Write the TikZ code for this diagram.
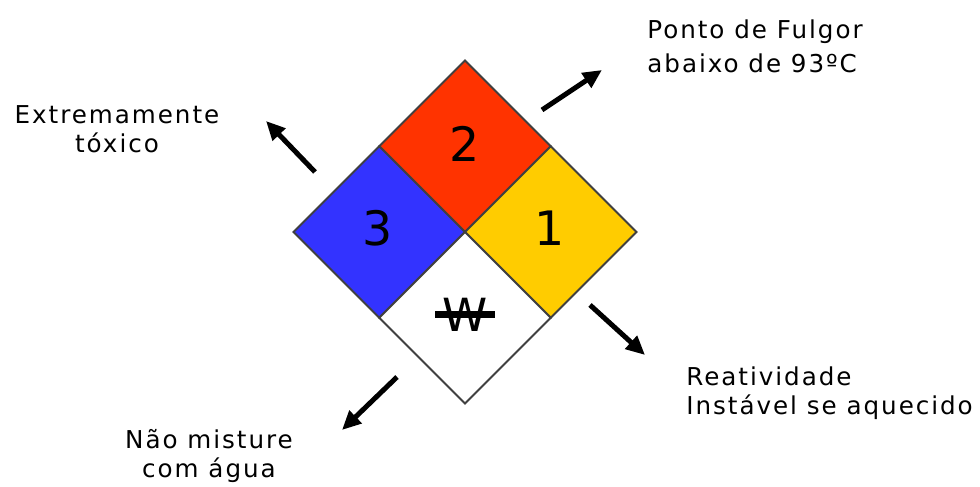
\documentclass[tikz,border=0pt]{standalone}
\usepackage{fontspec}
\setmainfont{DejaVu Sans}[LetterSpace=8]
\usetikzlibrary{arrows.meta}

\definecolor{healthblue}{RGB}{51,51,255}
\definecolor{firered}{RGB}{255,51,0}
\definecolor{reactyellow}{RGB}{255,204,0}
\definecolor{edgegray}{RGB}{64,64,64}

\tikzset{
  quad/.style={draw=edgegray, line width=0.04cm, line join=miter},
  digit/.style={inner sep=0pt, font=\fontsize{27}{30}\selectfont},
  label/.style={inner sep=0pt, font=\fontsize{14}{17}\selectfont},
  hazard/.style={line width=0.1cm, -{Triangle[length=0.38cm,width=0.34cm]}}
}

\begin{document}
\begin{tikzpicture}

 \useasboundingbox (0,0) rectangle (19.6,9.74);

 % nodes
 \coordinate (T)  at (9.300,8.530);
 \coordinate (L)  at (5.870,5.100);
 \coordinate (R)  at (12.730,5.100);
 \coordinate (B)  at (9.300,1.670);
 \coordinate (C)  at (9.300,5.100);
 \coordinate (TL) at (7.585,6.815);
 \coordinate (TR) at (11.015,6.815);
 \coordinate (BR) at (11.015,3.385);
 \coordinate (BL) at (7.585,3.385);

 % elements
 \draw[quad, fill=firered]     (T) -- (TR) -- (C) -- (TL) -- cycle;
 \draw[quad, fill=healthblue]  (TL) -- (C) -- (BL) -- (L) -- cycle;
 \draw[quad, fill=reactyellow] (TR) -- (R) -- (BR) -- (C) -- cycle;
 \draw[quad, fill=white]       (C) -- (BR) -- (B) -- (BL) -- cycle;

 % numbers
 \node[digit] (fire)   at (9.300,6.860) {2};
 \node[digit] (health) at (7.560,5.180) {3};
 \node[digit] (react)  at (11.000,5.180) {1};
 \node[inner sep=0pt, font=\fontsize{26}{28}\selectfont] (W) at (9.300,3.440) {W};
 \draw[line width=0.14cm] ([xshift=-0.14cm]W.west) -- ([xshift=0.14cm]W.east);

 % arrow
 \coordinate (P) at (6.30,6.30);
 \coordinate (Q) at (5.32,7.32);
 \coordinate (U) at (10.84,7.54);
 \coordinate (V) at (12.04,8.34);
 \coordinate (X) at (11.80,3.64);
 \coordinate (Y) at (12.90,2.64);
 \coordinate (Z) at (7.94,2.20);
 \coordinate (S) at (6.84,1.14);
 \draw[hazard] (P) -- (Q);
 \draw[hazard] (U) -- (V);
 \draw[hazard] (X) -- (Y);
 \draw[hazard] (Z) -- (S);

 % legend
 \node[label, align=center, anchor=base] (toxico) at (2.34,6.68) {Extremamente\\tóxico};
 \node[label, align=left, anchor=base west, font=\fontsize{14}{19.5}\selectfont] (fulgor) at (12.94,8.28) {Ponto de Fulgor\\abaixo de 93ºC};
 \node[label, align=left, anchor=base west] (reativ) at (13.72,1.44) {Reatividade\\Instável se aquecido};
 \node[label, align=center, anchor=base] (agua) at (4.18,0.18) {Não misture\\com água};
\end{tikzpicture}
\end{document}
